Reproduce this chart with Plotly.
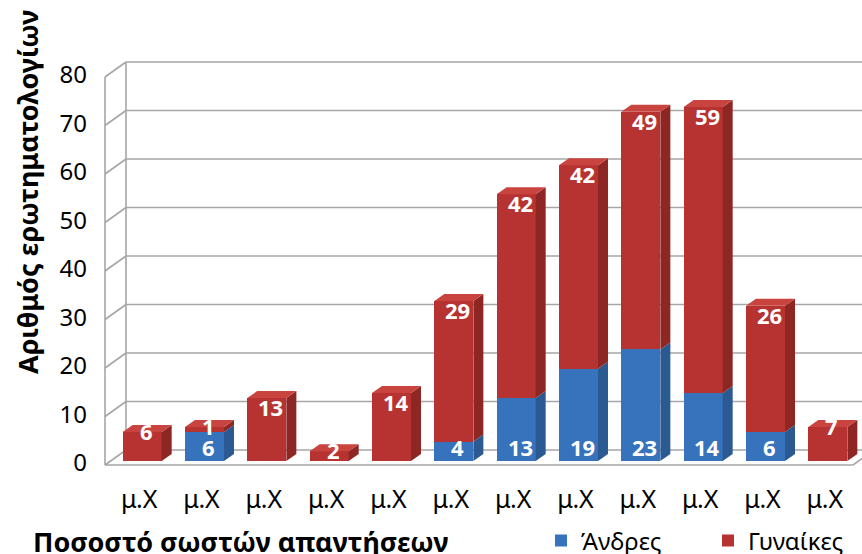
import plotly.graph_objects as go

# ---------------- data ----------------
tick_labels = ["μ.Χ", "μ.Χ", "μ.Χ", "μ.Χ", "μ.Χ", "μ.Χ",
               "μ.Χ", "μ.Χ", "μ.Χ", "μ.Χ", "μ.Χ", "μ.Χ"]
men = [0, 6, 0, 0, 0, 4, 13, 19, 23, 14, 6, 0]
women = [6, 1, 13, 2, 14, 29, 42, 42, 49, 59, 26, 7]
y_ticks = [0, 10, 20, 30, 40, 50, 60, 70, 80]
series_names = ["Άνδρες", "Γυναίκες"]
x_title = "Ποσοστό σωστών απαντήσεων"
y_title = "Αριθμός ερωτηματολογίων"

# ---------------- style ----------------
FONT = "Noto Sans"
FIG_W, FIG_H = 862, 554
L, R, T, B = 111, 3, 73, 93
W = FIG_W - L - R
H = FIG_H - T - B
YMAX = 80
N = len(tick_labels)
BARGAP = 0.374
BW = 1 - BARGAP

RED, RED_SIDE, RED_TOP = "#B73331", "#8E2624", "#C9433F"
BLUE, BLUE_SIDE, BLUE_TOP = "#3772BC", "#2B5A93", "#4D89D2"
GRID = "#A6A6A6"

# depth offsets (px) -> paper units
DEPTH_DX, DEPTH_DY = 10, 7          # bar depth
FRONT_DX, FRONT_DY = -6, -4         # front wall relative to bar plane
BACK_DX, BACK_DY = 15, 11           # back wall relative to bar plane


def xp(x):
    return (x + 0.5) / N


def yp(v):
    return v / YMAX


ddx, ddy = DEPTH_DX / W, DEPTH_DY / H
fdx, fdy = FRONT_DX / W, FRONT_DY / H
bdx, bdy = BACK_DX / W, BACK_DY / H

fig = go.Figure()
xs = list(range(N))
fig.add_trace(go.Bar(x=xs, y=men, name=series_names[0],
                     marker=dict(color=BLUE, line=dict(width=0))))
fig.add_trace(go.Bar(x=xs, y=women, name=series_names[1],
                     marker=dict(color=RED, line=dict(width=0))))

shapes = []
line_style = dict(color=GRID, width=1.6)

# back wall gridlines + left wall diagonals
for v in y_ticks:
    shapes.append(dict(type="line", xref="paper", yref="paper", layer="below",
                       x0=bdx, x1=1 + 30 / W, y0=yp(v) + bdy, y1=yp(v) + bdy,
                       line=line_style))
    shapes.append(dict(type="line", xref="paper", yref="paper", layer="below",
                       x0=fdx, x1=bdx, y0=yp(v) + fdy, y1=yp(v) + bdy,
                       line=line_style))
# left wall verticals
shapes.append(dict(type="line", xref="paper", yref="paper", layer="below",
                   x0=fdx, x1=fdx, y0=yp(0) + fdy, y1=yp(YMAX) + fdy, line=line_style))
shapes.append(dict(type="line", xref="paper", yref="paper", layer="below",
                   x0=bdx, x1=bdx, y0=yp(0) + bdy, y1=yp(YMAX) + bdy, line=line_style))
# floor front edge and right edge
shapes.append(dict(type="line", xref="paper", yref="paper", layer="below",
                   x0=fdx, x1=1 + fdx, y0=yp(0) + fdy, y1=yp(0) + fdy, line=line_style))
shapes.append(dict(type="line", xref="paper", yref="paper", layer="below",
                   x0=1 + fdx, x1=1 + bdx, y0=yp(0) + fdy, y1=yp(0) + bdy, line=line_style))


def poly(pts, color):
    path = "M " + " L ".join(f"{a:.5f},{b:.5f}" for a, b in pts) + " Z"
    return dict(type="path", xref="paper", yref="paper", layer="above",
                path=path, fillcolor=color, line=dict(width=0))


for i in xs:
    xl = xp(i - BW / 2)
    xr = xp(i + BW / 2)
    segs = []
    if men[i] > 0:
        segs.append((0, men[i], BLUE_SIDE, BLUE_TOP))
    if women[i] > 0:
        segs.append((men[i], men[i] + women[i], RED_SIDE, RED_TOP))
    for (b0, b1, side, top) in segs:
        shapes.append(poly([(xr, yp(b0)), (xr + ddx, yp(b0) + ddy),
                            (xr + ddx, yp(b1) + ddy), (xr, yp(b1))], side))
    tot = men[i] + women[i]
    top_col = segs[-1][3]
    shapes.append(poly([(xl, yp(tot)), (xl + ddx, yp(tot) + ddy),
                        (xr + ddx, yp(tot) + ddy), (xr, yp(tot))], top_col))

annotations = []
lab_font = dict(family=FONT, size=22, color="white")
for i in xs:
    tot = men[i] + women[i]
    if women[i] > 0:
        annotations.append(dict(x=i, y=tot, xref="x", yref="y", text=f"<b>{women[i]}</b>",
                                showarrow=False, font=lab_font, xshift=4,
                                yshift=-9 if women[i] >= 10 else 1, yanchor="middle"))
    if men[i] > 0:
        annotations.append(dict(x=i, y=0, xref="x", yref="y", text=f"<b>{men[i]}</b>",
                                showarrow=False, font=lab_font, xshift=4,
                                yshift=14, yanchor="middle"))

# axis titles
annotations.append(dict(x=(27 - L) / W, y=(H + T - 376) / H, xref="paper", yref="paper",
                        text=f"<b>{y_title}</b>", textangle=-90, showarrow=False,
                        xanchor="center", yanchor="bottom",
                        font=dict(family=FONT, size=27, color="black")))
annotations.append(dict(x=(31 - L) / W, y=(H + T - 541) / H, xref="paper", yref="paper",
                        text=f"<b>{x_title}</b>", showarrow=False,
                        xanchor="left", yanchor="middle",
                        font=dict(family=FONT, size=27, color="black")))

fig.update_layout(
    width=FIG_W, height=FIG_H,
    margin=dict(l=L, r=R, t=T, b=B, autoexpand=False),
    barmode="stack", bargap=BARGAP,
    paper_bgcolor="white", plot_bgcolor="white",
    font=dict(family=FONT, color="black"),
    shapes=shapes, annotations=annotations,
    legend=dict(orientation="h", x=(541 - L) / W, y=(H + T - 541) / H,
                xanchor="left", yanchor="middle",
                font=dict(family=FONT, size=24, color="black"),
                traceorder="normal", entrywidth=122, itemclick=False),
    xaxis=dict(range=[-0.5, N - 0.5], tickmode="array", tickvals=xs, ticktext=tick_labels,
               showgrid=False, zeroline=False, showline=False, ticks="",
               tickfont=dict(family=FONT, size=25), ticklabelstandoff=21,
               ticklabelshift=-3, automargin=False),
    yaxis=dict(range=[0, YMAX], tickmode="array", tickvals=y_ticks,
               showgrid=False, zeroline=False, showline=False, ticks="",
               tickfont=dict(family=FONT, size=24), ticklabelstandoff=23,
               ticklabelshift=2, automargin=False),
)

fig.write_html("out.html")
